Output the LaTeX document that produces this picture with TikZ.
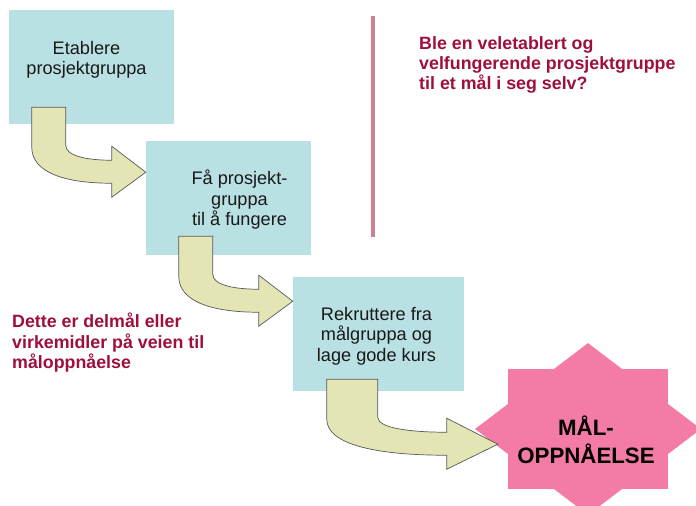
\documentclass[tikz,border=0pt]{standalone}
\usepackage{fontspec}
\setmainfont{Liberation Sans}
\usepackage{tikz}
\usetikzlibrary{shapes.geometric, positioning, calc}
\definecolor{grpcyan}{RGB}{185, 224, 227}
\definecolor{grpolive}{RGB}{227, 229, 181}
\definecolor{grppink}{RGB}{244, 123, 166}
\definecolor{grpred}{RGB}{158, 15, 58}
\definecolor{grpline}{RGB}{205, 130, 146}
\tikzset{
  block/.style={rectangle, fill=grpcyan, minimum width=#1, minimum height=3.42cm, inner sep=0pt},
  block/.default=4.95cm,
  blocktext/.style={align=center, inner sep=0pt, font=\fontsize{15.5}{17.5}\selectfont, text=black!90},
  note/.style={align=left, anchor=north west, inner sep=0pt,
               font=\fontsize{15.2}{17.4}\selectfont\bfseries, text=grpred},
  goalpart/.style={fill=grppink, inner sep=0pt},
  divider/.style={grpline, line width=3pt},
  turnfill/.style={fill=grpolive, draw=black!65, line width=0.6pt, line join=miter},
  pics/turnarrow/.style={code={
    \filldraw[turnfill] (0,0) -- (34,0) -- (34,38)
      .. controls (34,49) and (56,53) .. (80,53) -- (80,39) -- (114,65)
      -- (80,90) -- (80,76) .. controls (30,76) and (0,64) .. (0,40) -- cycle;
  }},
}
\begin{document}
\begin{tikzpicture}[x=0.03cm, y=-0.03cm]
  \useasboundingbox (0,0) rectangle (696,506);

  % steps
  \node[block] (etab) at (91.5,67) {};
  \node[block] (fungere) at (228.5,198) {};
  \node[block=5.13cm] (rekrutt) at (378.5,334) {};

  % goal star
  \node[goalpart, rectangle, minimum width=4.8cm, minimum height=3.6cm] (goalsq) at (588,429) {};
  \node[goalpart, diamond, minimum width=6.78cm, minimum height=5.16cm] (goal) at (goalsq) {};

  % bent arrows
  \pic at ($(etab.south west)+(23,-17)$) {turnarrow};
  \pic at ($(fungere.south west)+(33,-19)$) {turnarrow};
  \pic[xscale=1.5] at ($(rekrutt.south west)+(34,-12)$) {turnarrow};

  % texts
  \node[blocktext] (etabtxt) at ($(etab)+(-5,-7)$) {Etablere\\prosjektgruppa};
  \node[blocktext] (fungeretxt) at ($(fungere)+(11,2)$) {Få prosjekt-\\gruppa\\til å fungere};
  \node[blocktext] (rekrutttxt) at ($(rekrutt)+(-2,2)$) {Rekruttere fra\\målgruppa og\\lage gode kurs};
  \node[font=\fontsize{19}{24}\selectfont\bfseries, align=center, inner sep=0pt] (goaltxt)
       at ($(goal)+(-2,11)$) {MÅL-\\OPPNÅELSE};

  \draw[divider] (373,16) -- (373,237);
  \node[note] (question) at (419,36) {Ble en veletablert og\\velfungerende prosjektgruppe\\til et mål i seg selv?};
  \node[note] (delmaal) at (12,313) {Dette er delmål eller\\virkemidler på veien til\\måloppnåelse};
\end{tikzpicture}
\end{document}
